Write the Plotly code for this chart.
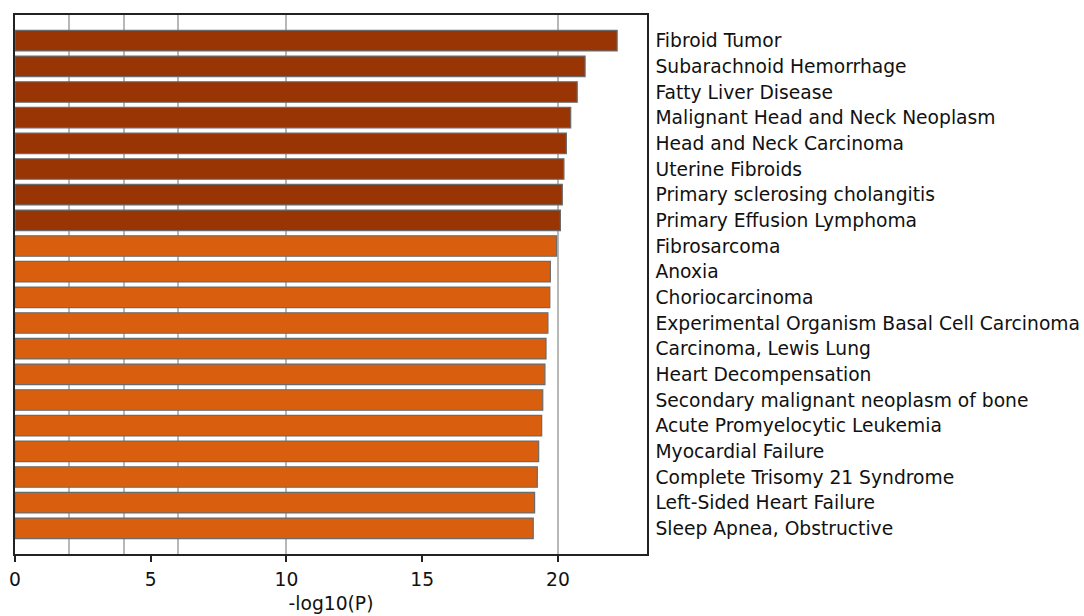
import plotly.graph_objects as go

# Enriched disease terms and their significance scores (-log10 P)
terms = [
    "Fibroid Tumor",
    "Subarachnoid Hemorrhage",
    "Fatty Liver Disease",
    "Malignant Head and Neck Neoplasm",
    "Head and Neck Carcinoma",
    "Uterine Fibroids",
    "Primary sclerosing cholangitis",
    "Primary Effusion Lymphoma",
    "Fibrosarcoma",
    "Anoxia",
    "Choriocarcinoma",
    "Experimental Organism Basal Cell Carcinoma",
    "Carcinoma, Lewis Lung",
    "Heart Decompensation",
    "Secondary malignant neoplasm of bone",
    "Acute Promyelocytic Leukemia",
    "Myocardial Failure",
    "Complete Trisomy 21 Syndrome",
    "Left-Sided Heart Failure",
    "Sleep Apnea, Obstructive",
]
neg_log_p = [22.18, 21.00, 20.71, 20.47, 20.31, 20.22, 20.16, 20.09,
             19.95, 19.72, 19.70, 19.63, 19.56, 19.52, 19.44, 19.40,
             19.29, 19.24, 19.14, 19.09]
# significance tier of each term: 1 = strongest group, 2 = next group
tier = [1, 1, 1, 1, 1, 1, 1, 1,
        2, 2, 2, 2, 2, 2, 2, 2, 2, 2, 2, 2]
tier_colors = {1: "#993404", 2: "#d95f0e"}

x_ticks = [0, 5, 10, 15, 20]
threshold_lines = [2, 4, 6, 10, 20]

FONT = "DejaVu Sans"
FS = 18.7

fig = go.Figure()
fig.add_trace(go.Bar(
    x=neg_log_p,
    y=terms,
    orientation="h",
    width=0.8,
    marker=dict(color=[tier_colors[t] for t in tier],
                line=dict(color="#6b6b6b", width=1.2)),
    showlegend=False,
    hoverinfo="x+y",
))
# empty helper trace so the overlaid threshold-grid axis gets rendered
fig.add_trace(go.Scatter(
    x=[0], y=[terms[0]], xaxis="x2", mode="markers",
    marker=dict(opacity=0, size=1), showlegend=False, hoverinfo="skip",
))

fig.update_layout(
    width=1084, height=616,
    margin=dict(l=15, r=437, t=15, b=62),
    paper_bgcolor="white",
    plot_bgcolor="white",
    font=dict(family=FONT, size=FS, color="#111"),
    xaxis=dict(
        range=[0, 23.28],
        tickvals=x_ticks,
        ticks="outside", ticklen=6, tickwidth=1.5, tickcolor="#222",
        ticklabelstandoff=2,
        showgrid=False, zeroline=False,
        showline=True, linecolor="#222", linewidth=1.5, mirror=True,
        title=dict(text="-log10(P)", font=dict(family=FONT, size=FS), standoff=8),
        tickfont=dict(family=FONT, size=FS),
        automargin=False,
    ),
    # overlaid axis that only carries the significance threshold grid lines
    xaxis2=dict(
        overlaying="x", matches="x", side="top",
        tickvals=threshold_lines, showticklabels=False, ticks="",
        showgrid=True, gridcolor="#b8b8b8", gridwidth=2,
        zeroline=False, showline=False, automargin=False,
    ),
    yaxis=dict(
        type="category",
        categoryorder="array", categoryarray=terms,
        range=[len(terms), -1],
        side="right",
        ticks="", ticklabelstandoff=3,
        showgrid=False, zeroline=False,
        showline=True, linecolor="#222", linewidth=1.5, mirror=True,
        tickfont=dict(family=FONT, size=FS),
        automargin=False,
    ),
)

fig.write_html("out.html")
